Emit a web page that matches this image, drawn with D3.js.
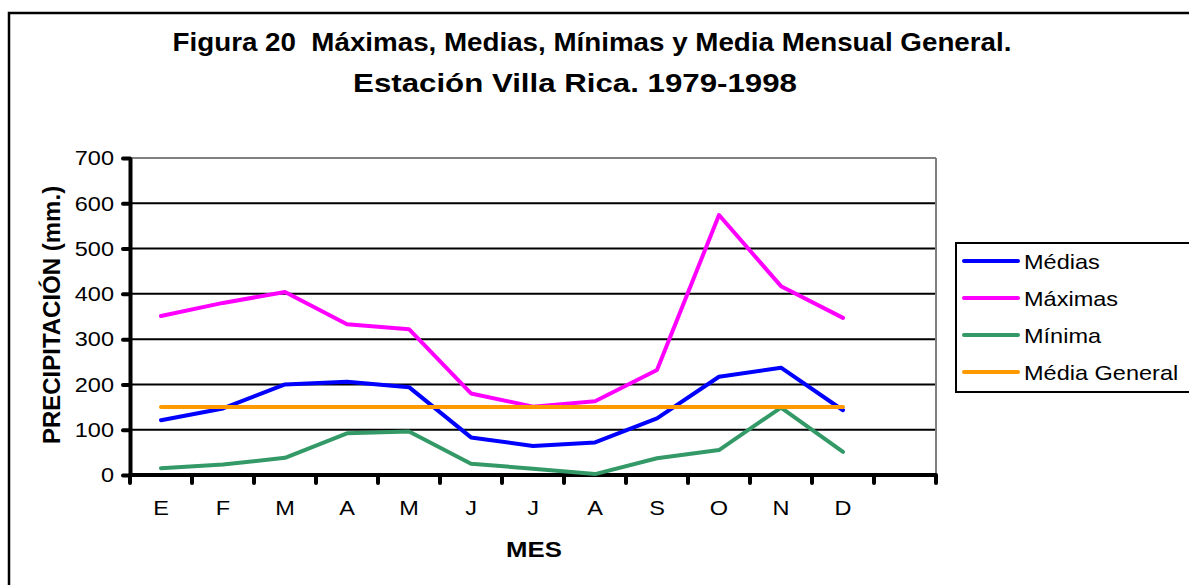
<!DOCTYPE html>
<html lang="es">
<head>
<meta charset="utf-8">
<script src="https://cdn.jsdelivr.net/npm/d3@7"></script>
<style>
  body { margin: 0; background: #fff; }
  svg { font-family: "Liberation Sans", Arial, sans-serif; display: block; }
  text { white-space: pre; }
</style>
</head>
<body>
<script>
// data (mm)
var months   = ["E", "F", "M", "A", "M", "J", "J", "A", "S", "O", "N", "D"];
var medias   = [121, 147, 200, 206, 194, 83, 64, 72, 125, 217, 237, 143];
var maximas  = [351, 380, 404, 333, 322, 180, 151, 163, 232, 574, 417, 347];
var minimas  = [15, 23, 38, 92, 96, 25, 14, 2, 37, 55, 149, 51];
var mediaGeneral = 150;
var yTicks = [0, 100, 200, 300, 400, 500, 600, 700];

var series = [
  {name: "Médias",        values: medias,  color: "#0000ff"},
  {name: "Máximas",       values: maximas, color: "#ff00ff"},
  {name: "Mínima",        values: minimas, color: "#339966"},
  {name: "Média General", values: months.map(function() { return mediaGeneral; }), color: "#ff9900"}
];

var W = 1189, H = 585, SX = 1.12;

var svg = d3.select("body").append("svg")
    .attr("width", W)
    .attr("height", H);

// outer frame (runs off the right/bottom edge as in the scan)
svg.append("rect")
    .attr("x", 9).attr("y", 13)
    .attr("width", 1200).attr("height", 600)
    .attr("fill", "none").attr("stroke", "#000").attr("stroke-width", 2.5);

// horizontally stretched text, like the reference
function label(g, x, y, str, size, weight, anchor, sx) {
  return g.append("text")
      .attr("transform", "translate(" + x + "," + y + ") scale(" + (sx || SX) + ",1)")
      .attr("text-anchor", anchor || "middle")
      .attr("font-size", size)
      .attr("font-weight", weight || "normal")
      .attr("fill", "#000")
      .text(str);
}

label(svg, 592, 51, "Figura 20  Máximas, Medias, Mínimas y Media Mensual General.", 25, "bold", "middle", 1.11);
label(svg, 575, 92, "Estación Villa Rica. 1979-1998", 25, "bold", "middle", 1.25);

var slots = d3.range(months.length + 1);   // 12 months + one empty slot
var x = d3.scaleBand().domain(slots).range([130, 936]).padding(0);
var y = d3.scaleLinear().domain([0, 700]).range([475, 158]);

// gridlines
svg.append("g").selectAll("line")
    .data(yTicks.filter(function(d) { return d > 0; }))
  .enter().append("line")
    .attr("x1", 130).attr("x2", 936)
    .attr("y1", function(d) { return y(d); })
    .attr("y2", function(d) { return y(d); })
    .attr("stroke", function(d) { return d === 700 ? "#808080" : "#000"; })
    .attr("stroke-width", 2);

// right border of the plot area
svg.append("line")
    .attr("x1", 936).attr("x2", 936)
    .attr("y1", y(700)).attr("y2", y(0))
    .attr("stroke", "#808080").attr("stroke-width", 2);

// y axis
var yAxis = svg.append("g")
    .attr("transform", "translate(130,0)")
    .call(d3.axisLeft(y).tickValues(yTicks).tickSize(7).tickSizeOuter(0).tickPadding(9));
yAxis.select(".domain").attr("stroke", "#000").attr("stroke-width", 4);
yAxis.selectAll(".tick line").attr("stroke", "#000").attr("stroke-width", 4).attr("stroke-linecap", "round");
yAxis.selectAll(".tick text")
    .attr("font-size", 21)
    .attr("font-family", "Liberation Sans, Arial, sans-serif")
    .attr("fill", "#000")
    .each(function() {
      var t = d3.select(this);
      t.attr("transform", "translate(" + (+t.attr("x")) + ",0) scale(" + SX + ",1)").attr("x", 0);
    });

// x axis
var bounds = slots.map(function(d) { return x(d); }).concat([x(slots[slots.length - 1]) + x.bandwidth()]);
var xAxis = svg.append("g");
xAxis.append("line")
    .attr("x1", 130).attr("x2", 936)
    .attr("y1", y(0)).attr("y2", y(0))
    .attr("stroke", "#000").attr("stroke-width", 4);
xAxis.selectAll("line.tk").data(bounds).enter().append("line")
    .attr("class", "tk")
    .attr("x1", function(d) { return d; }).attr("x2", function(d) { return d; })
    .attr("y1", y(0)).attr("y2", y(0) + 8)
    .attr("stroke", "#000").attr("stroke-width", 4).attr("stroke-linecap", "round");
months.forEach(function(m, i) {
  label(xAxis, x(i) + x.bandwidth() / 2, 515, m, 21);
});

// axis titles
label(svg, 534, 557, "MES", 23, "bold");
svg.append("text")
    .attr("transform", "translate(60,315) rotate(-90)")
    .attr("text-anchor", "middle")
    .attr("font-size", 24)
    .attr("font-weight", "bold")
    .text("PRECIPITACIÓN (mm.)");

// series
var line = d3.line()
    .x(function(d, i) { return x(i) + x.bandwidth() / 2; })
    .y(function(d) { return y(d); });

svg.append("g").selectAll("path")
    .data(series)
  .enter().append("path")
    .attr("d", function(d) { return line(d.values); })
    .attr("fill", "none")
    .attr("stroke", function(d) { return d.color; })
    .attr("stroke-width", 4)
    .attr("stroke-linejoin", "round")
    .attr("stroke-linecap", "round");

// legend
var legend = svg.append("g");
legend.append("rect")
    .attr("x", 956).attr("y", 243)
    .attr("width", 260).attr("height", 149)
    .attr("fill", "#fff").attr("stroke", "#000").attr("stroke-width", 2);
series.forEach(function(s, i) {
  var ly = 261 + i * 37;
  legend.append("line")
      .attr("x1", 964).attr("x2", 1018)
      .attr("y1", ly).attr("y2", ly)
      .attr("stroke", s.color).attr("stroke-width", 4).attr("stroke-linecap", "round");
  label(legend, 1024, ly + 7.5, s.name, 21, "normal", "start");
});
</script>
</body>
</html>
